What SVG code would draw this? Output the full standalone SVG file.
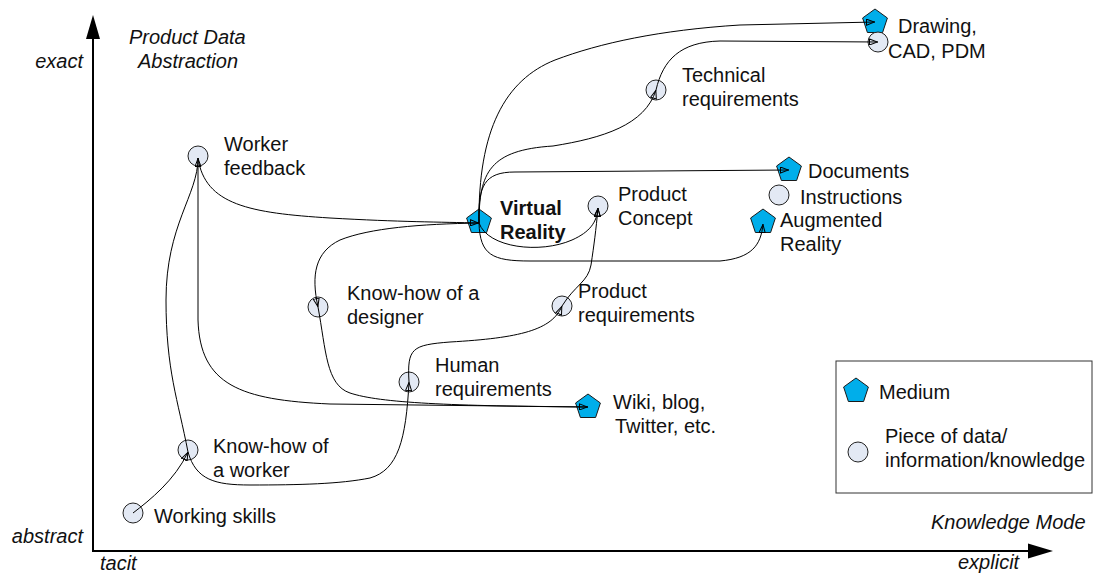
<svg xmlns="http://www.w3.org/2000/svg" width="1100" height="574" viewBox="0 0 1100 574">
  <style>
    text { font-family: "Liberation Sans", Arial, sans-serif; font-size: 20px; fill: #111; }
    .it { font-style: italic; }
    .b { font-weight: bold; }
    .axis { stroke: #000; stroke-width: 2; fill: none; }
    .data { fill: #e3e9f4; stroke: #222; stroke-width: 1; }
    .medium { fill: #00aeea; stroke: #1a1a1a; stroke-width: 1; }
    .c { fill: none; stroke: #000; stroke-width: 1; marker-end: url(#tri); }
    .cn { fill: none; stroke: #000; stroke-width: 1; }
  </style>
  <defs>
    <marker id="tri" viewBox="0 0 9 7" refX="9" refY="3.5" markerWidth="9" markerHeight="7" markerUnits="userSpaceOnUse" orient="auto">
      <path d="M0.5,0.5 L8.5,3.5 L0.5,6.5 Z" fill="none" stroke="#000" stroke-width="1"/>
    </marker>
    <polygon id="penta" points="0,-13 12.4,-4 7.6,10.5 -7.6,10.5 -12.4,-4"/>
  </defs>

  <rect width="1100" height="574" fill="#fff"/>

  <!-- axes -->
  <g id="axes">
    <line class="axis" x1="93" y1="552" x2="93" y2="36"/>
    <polygon points="93,15 86,39 100,39" fill="#000"/>
    <line class="axis" x1="92" y1="551" x2="1030" y2="551"/>
    <polygon points="1053,551 1028,543.5 1028,558.5" fill="#000"/>
    <text class="it" x="83" y="68" text-anchor="end">exact</text>
    <text class="it" x="129" y="44">Product Data</text>
    <text class="it" x="138" y="68">Abstraction</text>
    <text class="it" x="83" y="543" text-anchor="end">abstract</text>
    <text class="it" x="100" y="570">tacit</text>
    <text class="it" x="931" y="529">Knowledge Mode</text>
    <text class="it" x="958" y="569">explicit</text>
  </g>

  <!-- legend -->
  <g id="legend">
    <rect x="836" y="361" width="256" height="132" fill="#fff" stroke="#333" stroke-width="1"/>
    <use href="#penta" class="medium" x="856" y="391"/>
    <text x="879" y="399">Medium</text>
    <circle class="data" cx="858" cy="452" r="10"/>
    <text x="885" y="443">Piece of data/</text>
    <text x="885" y="467">information/knowledge</text>
  </g>

  <!-- pieces of data / information / knowledge -->
  <g id="working-skills">
    <circle class="data" cx="133" cy="513" r="10"/>
    <text x="154" y="523">Working skills</text>
  </g>
  <g id="knowhow-worker">
    <circle class="data" cx="188" cy="450" r="10"/>
    <text x="213" y="453">Know-how of</text>
    <text x="213" y="477">a worker</text>
  </g>
  <g id="worker-feedback">
    <circle class="data" cx="198" cy="156" r="10"/>
    <text x="224" y="151">Worker</text>
    <text x="224" y="175">feedback</text>
  </g>
  <g id="knowhow-designer">
    <circle class="data" cx="318" cy="307" r="10"/>
    <text x="347" y="300">Know-how of a</text>
    <text x="347" y="324">designer</text>
  </g>
  <g id="human-requirements">
    <circle class="data" cx="409" cy="382" r="10"/>
    <text x="435" y="372">Human</text>
    <text x="435" y="396">requirements</text>
  </g>
  <g id="product-requirements">
    <circle class="data" cx="562" cy="306" r="10"/>
    <text x="578" y="298">Product</text>
    <text x="578" y="322">requirements</text>
  </g>
  <g id="product-concept">
    <circle class="data" cx="598" cy="206" r="10"/>
    <text x="618" y="201">Product</text>
    <text x="618" y="225">Concept</text>
  </g>
  <g id="technical-requirements">
    <circle class="data" cx="656" cy="90" r="10"/>
    <text x="682" y="82">Technical</text>
    <text x="682" y="106">requirements</text>
  </g>
  <g id="instructions">
    <circle class="data" cx="779" cy="195" r="10"/>
    <text x="800" y="204">Instructions</text>
  </g>

  <!-- media -->
  <g id="drawing">
    <use href="#penta" class="medium" x="875" y="22"/>
    <text x="898" y="33">Drawing,</text>
  </g>
  <g id="cad-pdm">
    <circle class="data" cx="878" cy="42" r="10"/>
    <text x="888" y="58">CAD, PDM</text>
  </g>
  <g id="documents">
    <use href="#penta" class="medium" x="789" y="170"/>
    <text x="808" y="178">Documents</text>
  </g>
  <g id="augmented-reality">
    <use href="#penta" class="medium" x="763" y="222"/>
    <text x="780" y="227">Augmented</text>
    <text x="780" y="251">Reality</text>
  </g>
  <g id="virtual-reality">
    <use href="#penta" class="medium" x="479" y="222"/>
    <text class="b" x="500" y="215">Virtual</text>
    <text class="b" x="500" y="239">Reality</text>
  </g>
  <g id="wiki">
    <use href="#penta" class="medium" x="588" y="407"/>
    <text x="613" y="409">Wiki, blog,</text>
    <text x="615" y="433">Twitter, etc.</text>
  </g>

  <!-- connectors -->
  <g id="connectors">
    <path class="c" d="M133,513 C150,500 175,480 188,452"/>
    <path class="c" d="M188,452 C178,400 166,370 166,300 C166,225 198,195 198,158"/>
    <path class="c" d="M198,158 L198,320 C200,385 240,400 330,404 L588,407"/>
    <path class="c" d="M198,158 C205,205 250,213 330,218 C400,222 440,222 479,223"/>
    <path class="c" d="M479,223 C420,224 370,228 340,240 C315,252 311,275 318,307"/>
    <path class="cn" d="M318,307 C326,350 326,385 350,393 C380,403 450,406 588,407"/>
    <path class="c" d="M188,452 C196,480 215,485 250,485 C300,485 340,484 370,478 C398,470 406,440 409,382"/>
    <path class="c" d="M409,382 C407,348 412,345 450,342 C520,338 552,330 562,306"/>
    <path class="c" d="M562,306 C575,285 588,282 591,265 C594,245 596,230 598,208"/>
    <path class="c" d="M479,223 C488,248 540,254 572,240 C590,232 597,222 598,208"/>
    <path class="c" d="M479,223 C480,255 492,261 530,261 L720,261 C752,258 761,245 763,224"/>
    <path class="c" d="M479,223 C478,186 484,172 515,172 L789,170"/>
    <path class="c" d="M479,223 C479,172 490,150 553,146 C603,138 645,125 656,90"/>
    <path class="c" d="M656,90 C663,60 680,42 720,41 L878,42"/>
    <path class="c" d="M479,223 C478,130 505,80 555,60 C600,43 660,30 740,25 L875,22"/>
  </g>
</svg>
